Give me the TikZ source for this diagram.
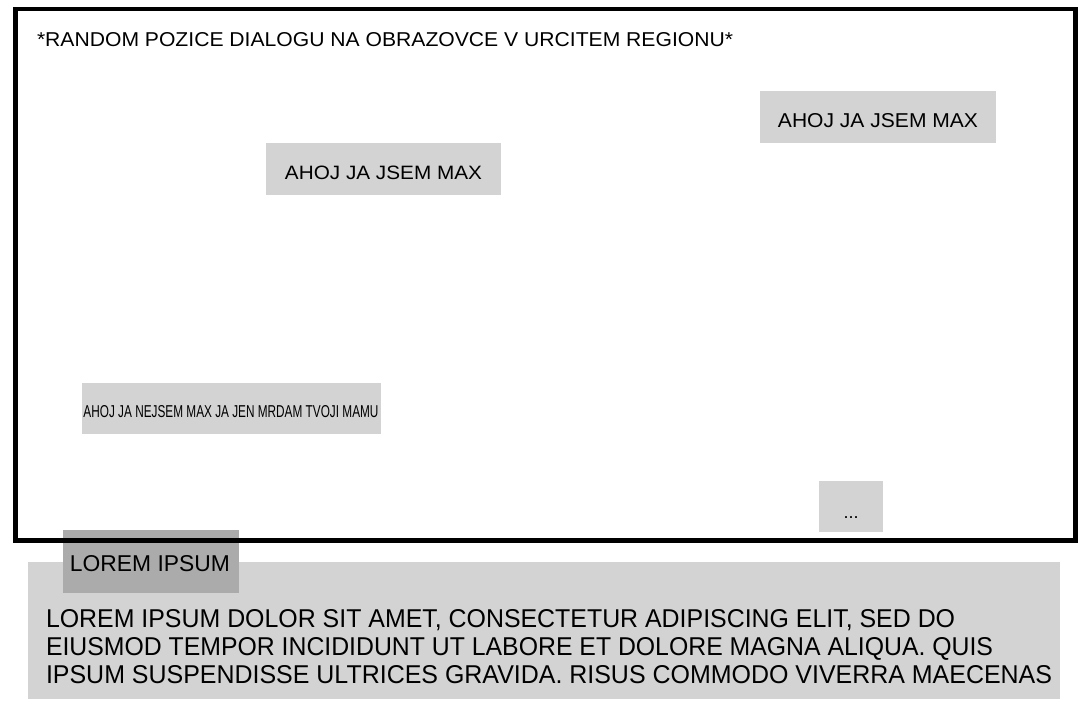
\documentclass[tikz,border=0pt]{standalone}
\usepackage{fontspec}
\setmainfont{Liberation Sans}
\usepackage{graphicx}
\newcommand{\fitt}[3]{\resizebox{#1pt}{#2pt}{#3}}
\definecolor{lightbox}{HTML}{D3D3D3}
\definecolor{darkbox}{HTML}{ABABAB}
\begin{document}
\begin{tikzpicture}[x=1pt,y=-1pt,
  box/.style={fill=lightbox, inner sep=0pt, outer sep=0pt, anchor=north west},
  darklabel/.style={fill=darkbox, inner sep=0pt, outer sep=0pt, anchor=north west},
  txt/.style={inner sep=0pt, outer sep=0pt, anchor=base west},
  ctxt/.style={inner sep=0pt, outer sep=0pt, anchor=base},
  frame/.style={draw=black, line width=4.5pt, inner sep=0pt, outer sep=0pt, anchor=north west}]
\useasboundingbox[fill=white] (0,0) rectangle (1080,720);

% dialog boxes
\node[box, minimum width=236pt, minimum height=52pt] (b1) at (760,91) {};
\node[ctxt] (b1t) at (878,127) {\fitt{200}{14}{AHOJ JA JSEM MAX}};
\node[box, minimum width=235pt, minimum height=52pt] (b2) at (266,143) {};
\node[ctxt] (b2t) at (383.5,179) {\fitt{197}{13.5}{AHOJ JA JSEM MAX}};
\node[box, minimum width=299pt, minimum height=51pt] (b3) at (82,383) {};
\node[ctxt] (b3t) at (231,417) {\fitt{295}{12}{AHOJ JA NEJSEM MAX JA JEN MRDAM TVOJI MAMU}};
\node[box, minimum width=64pt, minimum height=51pt] (b4) at (819,481) {};
\node[ctxt] (b4t) at (851,518) {\fontsize{18}{20}\selectfont ...};

% title
\node[txt] (title) at (37,47) {\fitt{696}{14}{*RANDOM POZICE DIALOGU NA OBRAZOVCE V URCITEM REGIONU*}};

% bottom text panel
\node[box, minimum width=1032pt, minimum height=137pt] (panel) at (28,562) {};
\node[txt] (l1) at (46,627) {\fitt{909}{18}{LOREM IPSUM DOLOR SIT AMET, CONSECTETUR ADIPISCING ELIT, SED DO}};
\node[txt] (l2) at (46,655) {\fitt{947}{18}{EIUSMOD TEMPOR INCIDIDUNT UT LABORE ET DOLORE MAGNA ALIQUA. QUIS}};
\node[txt] (l3) at (46,683) {\fitt{1006}{18}{IPSUM SUSPENDISSE ULTRICES GRAVIDA. RISUS COMMODO VIVERRA MAECENAS}};

% speaker label
\node[darklabel, minimum width=176pt, minimum height=63pt] (speaker) at (63,530) {};
\node[ctxt] (speakert) at (150,571) {\fitt{160}{16}{LOREM IPSUM}};

% screen frame
\node[frame, minimum width=1060pt, minimum height=531.5pt] (screen) at (15.5,9) {};
\end{tikzpicture}
\end{document}
